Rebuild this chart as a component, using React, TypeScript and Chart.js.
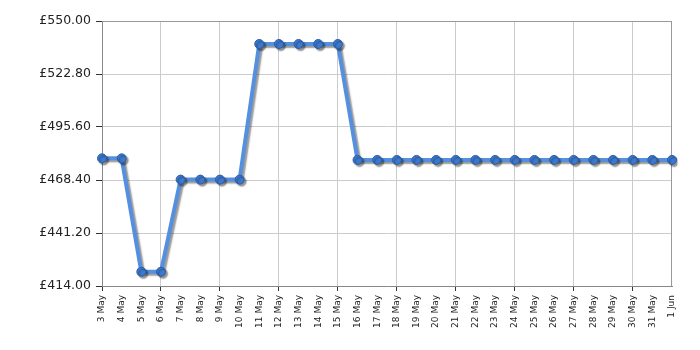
import React, { useEffect, useRef } from "react";
import { Chart, registerables } from "chart.js";

Chart.register(...registerables);

const categories = [
  "3 May", "4 May", "5 May", "6 May", "7 May", "8 May", "9 May", "10 May",
  "11 May", "12 May", "13 May", "14 May", "15 May", "16 May", "17 May", "18 May",
  "19 May", "20 May", "21 May", "22 May", "23 May", "24 May", "25 May", "26 May",
  "27 May", "28 May", "29 May", "30 May", "31 May", "1 Jun",
];

const prices = [
  479.5, 479.5, 421.3, 421.3, 468.6, 468.6, 468.6, 468.6,
  538.2, 538.2, 538.2, 538.2, 538.2, 478.7, 478.7, 478.7,
  478.7, 478.7, 478.7, 478.7, 478.7, 478.7, 478.7, 478.7,
  478.7, 478.7, 478.7, 478.7, 478.7, 478.7,
];

const yTickValues = [414.0, 441.2, 468.4, 495.6, 522.8, 550.0];

const FONT = "'DejaVu Sans', Verdana, sans-serif";

const shadowPlugin = {
  id: "lineShadow",
  beforeDatasetsDraw(chart: any) {
    const ctx = chart.ctx;
    ctx.save();
    ctx.shadowColor = "rgba(0,0,0,0.4)";
    ctx.shadowBlur = 1.5;
    ctx.shadowOffsetX = 2;
    ctx.shadowOffsetY = 2;
  },
  afterDatasetsDraw(chart: any) {
    chart.ctx.restore();
  },
};

const framePlugin = {
  id: "frame",
  beforeDatasetsDraw(chart: any) {
    const { ctx, chartArea } = chart;
    ctx.save();
    ctx.strokeStyle = "#999999";
    ctx.lineWidth = 1;
    ctx.beginPath();
    ctx.moveTo(chartArea.left, Math.round(chartArea.top) + 0.5);
    ctx.lineTo(chartArea.right, Math.round(chartArea.top) + 0.5);
    ctx.moveTo(Math.round(chartArea.right) - 0.5, chartArea.top);
    ctx.lineTo(Math.round(chartArea.right) - 0.5, chartArea.bottom);
    ctx.stroke();
    ctx.restore();
  },
};

export default function App() {
  const ref = useRef<HTMLCanvasElement | null>(null);

  useEffect(() => {
    if (!ref.current) return;
    const chart = new Chart(ref.current, {
      type: "line",
      data: {
        labels: categories,
        datasets: [
          {
            data: prices,
            borderColor: "#5590df",
            borderWidth: 4,
            pointRadius: 4.5,
            pointBackgroundColor: "#3d78cc",
            pointBorderColor: "#2b5fa6",
            pointBorderWidth: 1,
            tension: 0,
            fill: false,
          },
        ],
      },
      options: {
        animation: false,
        responsive: false,
        maintainAspectRatio: false,
        layout: { padding: { top: 21, right: 28, left: 0, bottom: 0 } },
        plugins: {
          legend: { display: false },
          tooltip: { enabled: false },
        },
        scales: {
          x: {
            type: "category",
            offset: false,
            afterFit(scale: any) {
              scale.height = 64;
            },
            border: { color: "#888888", width: 1 },
            grid: {
              color: (c: any) => (c.index % 3 === 0 ? "#cccccc" : "rgba(0,0,0,0)"),
              tickColor: (c: any) => (c.index % 3 === 0 ? "#333333" : "rgba(0,0,0,0)"),
              tickLength: 5,
            },
            ticks: {
              autoSkip: false,
              maxRotation: 90,
              minRotation: 90,
              padding: 4,
              color: "#222222",
              font: { family: FONT, size: 9 },
            },
          },
          y: {
            min: 414,
            max: 550,
            afterFit(scale: any) {
              scale.width = 102;
            },
            afterBuildTicks(scale: any) {
              scale.ticks = yTickValues.map((v) => ({ value: v }));
            },
            border: { color: "#888888", width: 1 },
            grid: {
              color: "#cccccc",
              tickColor: "#333333",
              tickLength: 6,
            },
            ticks: {
              padding: 5,
              color: "#222222",
              font: { family: FONT, size: 12.5 },
              callback: (v: any) => "£" + Number(v).toFixed(2),
            },
          },
        },
      },
      plugins: [framePlugin, shadowPlugin],
    });
    return () => chart.destroy();
  }, []);

  return (
    <div style={{ position: "fixed", left: 0, top: 0, width: 700, height: 350, background: "#ffffff" }}>
      <canvas ref={ref} width={700} height={350} style={{ width: 700, height: 350 }} />
    </div>
  );
}
